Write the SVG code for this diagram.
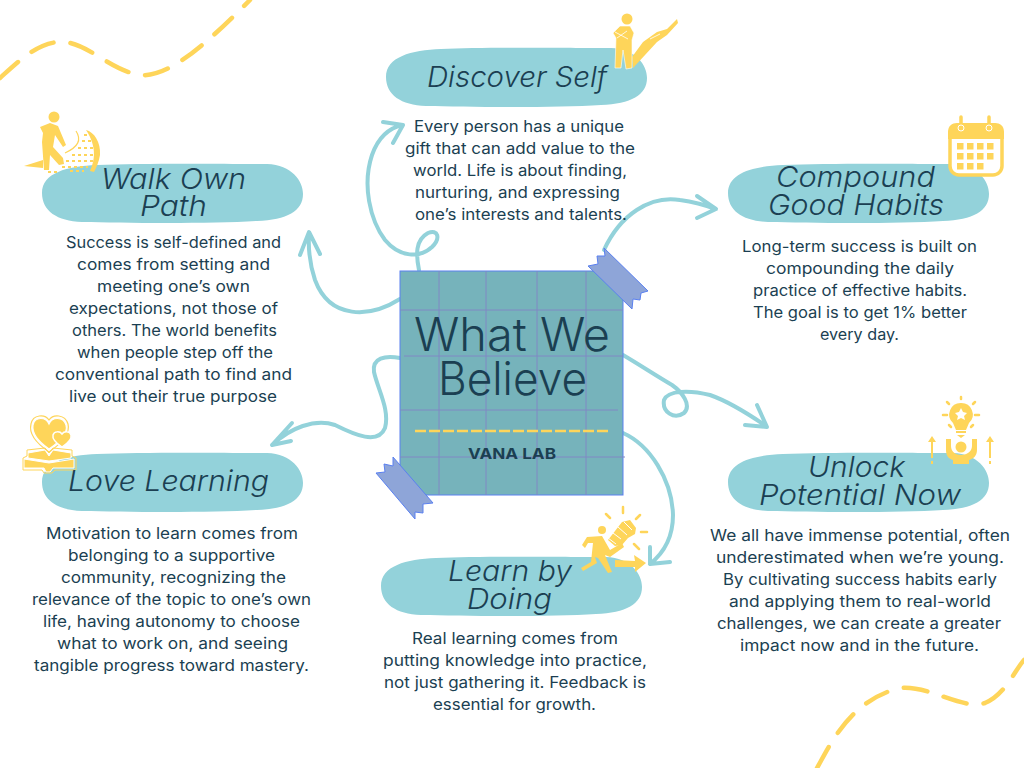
<svg xmlns="http://www.w3.org/2000/svg" width="1024" height="768" viewBox="0 0 1024 768">
<style>
text{font-family:"Inter","Open Sans","Liberation Sans",sans-serif;fill:#1b3f52}
.b{font-size:15.5px;font-weight:400}
.t{font-size:29px;font-style:italic;font-weight:300}
.h{font-size:46px;font-weight:300}
.c{fill:none;stroke:#93d2da;stroke-width:4;stroke-linecap:round;stroke-linejoin:round}
.y{fill:#fed55a}
.d{fill:none;stroke:#fed55a;stroke-width:4.5;stroke-linecap:round;stroke-dasharray:24 17}
.g{stroke:#8088c4;stroke-width:1;fill:none}
.w{fill:none;stroke:#fff}
.tape{fill:#8ea5d8;stroke:#5a80f0;stroke-width:1}
</style>
<defs>
<path id="blob" fill="#93d2da" d="M0,30C0,10 25,3 55,2C100,0 190,1 225,1C250,2 261,18 261,31C261,48 245,57 215,58C170,61 80,60 40,59C15,58 0,48 0,30Z"/>
</defs>
<rect width="1024" height="768" fill="#fff"/>
<g id="decor">
<path class="d" d="M0,78C20,60 40,40 65,42C90,45 110,70 140,75C170,78 210,40 250,0"/>
<path class="d" d="M817,768C830,745 850,700 900,688C930,685 960,710 985,703C1005,695 1015,670 1024,660"/>
</g>
<g id="connectors">
<path class="c" d="M400,299C370,318 330,320 315,280C310,265 308,250 309,233M300,255L309,232L320,254"/>
<path class="c" d="M419,270C416,255 415,240 428,233C438,229 441,238 432,247C420,258 400,258 385,240C370,220 362,185 372,155C378,138 388,128 403,125M383,122L403,125L393,143"/>
<path class="c" d="M604,250C620,215 650,195 680,200C695,202 705,205 715,209M697,196L716,209L697,218"/>
<path class="c" d="M623,355C640,365 655,375 672,385C682,392 692,405 684,413C674,420 662,412 664,400C668,390 690,390 710,395C730,402 750,415 766,426M745,425L767,427L757,405"/>
<path class="c" d="M400,358C385,355 372,358 374,372C378,390 390,410 385,428C378,445 355,435 335,425C315,418 290,428 272,445M292,423L272,445L291,441"/>
<path class="c" d="M623,433C650,445 672,480 673,515C673,535 665,552 650,564M650,547L650,564L670,562"/>
</g>
<g id="center">
<rect x="400" y="271" width="223" height="224" fill="#76b3bb" stroke="#5a80f0" stroke-width="1"/>
<path class="g" d="M439,271V495M486,271V495M537,271V495M586,271V495M400,310H623M404,356H623M400,410H618M400,457H625"/>
<polygon class="tape" points="604,248 648,291 641,293 640,300 633,299 632,309 588,266 598,264 597,256 605,256"/>
<polygon class="tape" points="393,457 433,503 423,504 423,513 415,512 415,519 376,473 385,472 384,464 393,466"/>
<path fill="none" stroke="#fed55a" stroke-width="2.5" stroke-dasharray="11 3" d="M415,431H609"/>
<text class="h" x="414" y="351" textLength="196" lengthAdjust="spacingAndGlyphs">What We</text>
<text class="h" x="438" y="395" textLength="149" lengthAdjust="spacingAndGlyphs">Believe</text>
<text x="468" y="459" font-size="15" font-weight="700" textLength="88" lengthAdjust="spacingAndGlyphs">VANA LAB</text>
</g>
<g id="discover">
<use href="#blob" x="386" y="47"/>
<text class="t" x="427" y="87" textLength="180" lengthAdjust="spacingAndGlyphs">Discover Self</text>
<circle class="y" cx="627" cy="19" r="5.5"/>
<path class="y" d="M632,57L643,42L657,32L667,29L677,19L678,23L667,35L657,42L633,68Z"/>
<path class="y" stroke="#fff" stroke-width="0.6" d="M613,33L620,26H630L634,33L632,40L632,68L626,69L623,50L621,68L615,68L616,38Z"/>
<path class="w" stroke-width="0.8" d="M615,32L628,39M617,38L627,31"/>
<path class="w" stroke-width="0.8" d="M650,39L660,34"/>
<text class="b" x="414" y="132" textLength="210" lengthAdjust="spacingAndGlyphs">Every person has a unique</text>
<text class="b" x="405" y="154" textLength="230" lengthAdjust="spacingAndGlyphs">gift that can add value to the</text>
<text class="b" x="413" y="176" textLength="214" lengthAdjust="spacingAndGlyphs">world. Life is about finding,</text>
<text class="b" x="415" y="198" textLength="205" lengthAdjust="spacingAndGlyphs">nurturing, and expressing</text>
<text class="b" x="415" y="220" textLength="212" lengthAdjust="spacingAndGlyphs">one’s interests and talents.</text>
</g>
<g id="walk">
<use href="#blob" x="42" y="163"/>
<circle class="y" cx="54" cy="117" r="5.5"/>
<path class="y" d="M40,127L50,123L58,126L66,145L63,147L55,135L53,147L63,158L64,164L59,165L50,155L49,170L44,170L42,142L43,133Z"/>
<path class="y" d="M24,166L43,160V168Z"/>
<path class="y" d="M86,130C94,132 101,142 100,155C99,162 96,168 94,172L90,171C94,162 98,148 86,130Z"/>
<path d="M76,131C82,140 78,147 65,153" fill="none" stroke="#fed55a" stroke-width="1.2"/>
<path d="M84,135H89M82,141H93M78,148H94M72,155H94M66,161H93M62,167H88M48,172H60M70,171H84" fill="none" stroke="#fed55a" stroke-width="1.8" stroke-dasharray="3 3"/>
<text class="t" x="101" y="189" textLength="145" lengthAdjust="spacingAndGlyphs">Walk Own</text>
<text class="t" x="140" y="216" textLength="67" lengthAdjust="spacingAndGlyphs">Path</text>
<text class="b" x="66" y="248" textLength="215" lengthAdjust="spacingAndGlyphs">Success is self-defined and</text>
<text class="b" x="77" y="270" textLength="193" lengthAdjust="spacingAndGlyphs">comes from setting and</text>
<text class="b" x="97" y="292" textLength="153" lengthAdjust="spacingAndGlyphs">meeting one’s own</text>
<text class="b" x="69" y="314" textLength="209" lengthAdjust="spacingAndGlyphs">expectations, not those of</text>
<text class="b" x="72" y="336" textLength="205" lengthAdjust="spacingAndGlyphs">others. The world benefits</text>
<text class="b" x="77" y="358" textLength="196" lengthAdjust="spacingAndGlyphs">when people step off the</text>
<text class="b" x="55" y="380" textLength="237" lengthAdjust="spacingAndGlyphs">conventional path to find and</text>
<text class="b" x="69" y="402" textLength="208" lengthAdjust="spacingAndGlyphs">live out their true purpose</text>
</g>
<g id="compound">
<use href="#blob" x="728" y="163"/>
<rect x="950" y="125" width="52" height="50" rx="9" fill="#fff" stroke="#fed55a" stroke-width="3.5"/>
<path class="y" d="M948,139V132C948,126 952,123 957,123H995C1000,123 1004,126 1004,132V139Z"/>
<path d="M961,117V128M989,117V128" stroke="#fed55a" stroke-width="3.5" stroke-linecap="round"/>
<circle cx="961" cy="128" r="3" fill="#fed55a" stroke="#fff"/><circle cx="989" cy="128" r="3" fill="#fed55a" stroke="#fff"/>
<path class="y" d="M957,143h6.5v6.5h-6.5zM967,143h6.5v6.5h-6.5zM977,143h6.5v6.5h-6.5zM987,143h6.5v6.5h-6.5zM957,153h6.5v6.5h-6.5zM967,153h6.5v6.5h-6.5zM977,153h6.5v6.5h-6.5zM987,153h6.5v6.5h-6.5zM957,163h6.5v6.5h-6.5zM967,163h6.5v6.5h-6.5zM977,163h6.5v6.5h-6.5z"/>
<text class="t" x="776" y="187" textLength="159" lengthAdjust="spacingAndGlyphs">Compound</text>
<text class="t" x="768" y="215" textLength="176" lengthAdjust="spacingAndGlyphs">Good Habits</text>
<text class="b" x="742" y="252" textLength="235" lengthAdjust="spacingAndGlyphs">Long-term success is built on</text>
<text class="b" x="766" y="274" textLength="188" lengthAdjust="spacingAndGlyphs">compounding the daily</text>
<text class="b" x="753" y="296" textLength="214" lengthAdjust="spacingAndGlyphs">practice of effective habits.</text>
<text class="b" x="753" y="318" textLength="214" lengthAdjust="spacingAndGlyphs">The goal is to get 1% better</text>
<text class="b" x="820" y="340" textLength="79" lengthAdjust="spacingAndGlyphs">every day.</text>
</g>
<g id="unlock">
<use href="#blob" x="728" y="452"/>
<path class="y" d="M961,403A11.5,11.5 0 0 1 969,423L966,430H956L953,423A11.5,11.5 0 0 1 961,403ZM956,431H966V433H956ZM957,435H965L961,438Z"/>
<polygon fill="#fff" points="961,408 963,412 967,413 964,416 965,420 961,418 957,420 958,416 955,413 959,412"/>
<path d="M961,397V399M947,402L949,404M975,402L973,404M943,415H947M975,415H979M949,425L951,427M973,425L971,427" stroke="#fed55a" stroke-width="2.5" stroke-linecap="round"/>
<circle class="y" cx="961" cy="447" r="5.5"/>
<path class="y" d="M946,439H951V446C951,452 956,455 961,455C966,455 972,452 972,446V439H977V450C977,456 973,459 969,460V464H953V460C949,459 946,456 946,450Z"/>
<path class="y" d="M932,436L936,442H933V458H931V442H928ZM990,436L994,442H991V458H989V442H986ZM931,461h2v3h-2zM989,461h2v3h-2z"/>
<text class="t" x="808" y="477" textLength="97" lengthAdjust="spacingAndGlyphs">Unlock</text>
<text class="t" x="759" y="505" textLength="202" lengthAdjust="spacingAndGlyphs">Potential Now</text>
<text class="b" x="710" y="541" textLength="300" lengthAdjust="spacingAndGlyphs">We all have immense potential, often</text>
<text class="b" x="716" y="563" textLength="288" lengthAdjust="spacingAndGlyphs">underestimated when we’re young.</text>
<text class="b" x="723" y="585" textLength="274" lengthAdjust="spacingAndGlyphs">By cultivating success habits early</text>
<text class="b" x="729" y="607" textLength="262" lengthAdjust="spacingAndGlyphs">and applying them to real-world</text>
<text class="b" x="717" y="629" textLength="284" lengthAdjust="spacingAndGlyphs">challenges, we can create a greater</text>
<text class="b" x="740" y="651" textLength="239" lengthAdjust="spacingAndGlyphs">impact now and in the future.</text>
</g>
<g id="love">
<use href="#blob" x="42" y="452"/>
<path fill="#fed55a" stroke="#fff" stroke-width="1.2" d="M49,449C36,440 32,432 33,425C35,416 46,417 49,424C52,417 63,416 66,425C68,432 62,440 49,449Z"/>
<path fill="none" stroke="#fed55a" stroke-width="1.2" d="M49,452C33,441 29,432 31,424C33,414 45,414 49,420C53,414 65,414 68,424C70,432 65,441 49,452Z"/>
<path fill="#fed55a" stroke="#fff" stroke-width="1.5" d="M62,447C56,443 52,439 53,435C54,431 60,431 62,434C64,431 70,431 71,435C72,439 68,443 62,447Z"/>
<path fill="#fed55a" stroke="#fff" stroke-width="1" d="M28,453L45,450L49,456L53,450L71,453V458L49,461L28,458ZM24,459L49,463L74,459V468H53L50,472H46L44,468H24Z"/>
<path fill="none" stroke="#fed55a" stroke-width="1" d="M27,450L45,448L49,453L53,448L72,450V456L76,458V470H55L52,473H44L42,470H23V458L27,456Z"/>
<text class="t" x="68" y="491" textLength="201" lengthAdjust="spacingAndGlyphs">Love Learning</text>
<text class="b" x="46" y="539" textLength="252" lengthAdjust="spacingAndGlyphs">Motivation to learn comes from</text>
<text class="b" x="68" y="561" textLength="207" lengthAdjust="spacingAndGlyphs">belonging to a supportive</text>
<text class="b" x="61" y="583" textLength="225" lengthAdjust="spacingAndGlyphs">community, recognizing the</text>
<text class="b" x="32" y="605" textLength="279" lengthAdjust="spacingAndGlyphs">relevance of the topic to one’s own</text>
<text class="b" x="43" y="627" textLength="257" lengthAdjust="spacingAndGlyphs">life, having autonomy to choose</text>
<text class="b" x="57" y="649" textLength="231" lengthAdjust="spacingAndGlyphs">what to work on, and seeing</text>
<text class="b" x="34" y="671" textLength="275" lengthAdjust="spacingAndGlyphs">tangible progress toward mastery.</text>
</g>
<g id="learn">
<use href="#blob" x="381" y="556"/>
<circle class="y" cx="602" cy="530" r="4"/>
<path class="y" d="M582,545L587,537L602,536L610,550L622,543L624,547L610,557L605,555L612,572L608,573L598,558L595,557L597,563L583,571L581,568L591,562L593,543L588,543L585,548Z"/>
<path class="y" d="M615,560L635,561L634,555L646,563L635,572V567H615Z"/>
<path class="y" d="M608,540L622,522L630,520L636,528L635,534L628,538L622,545L615,546Z"/>
<path class="w" stroke-width="1" d="M613,533L621,539M618,527L627,535M624,522L632,530M608,538L616,544"/>
<path d="M623,507V513M606,514L610,518M640,515L636,519M641,532H647M634,544L639,549" stroke="#fed55a" stroke-width="2.5" stroke-linecap="round"/>
<text class="t" x="448" y="581" textLength="124" lengthAdjust="spacingAndGlyphs">Learn by</text>
<text class="t" x="467" y="609" textLength="85" lengthAdjust="spacingAndGlyphs">Doing</text>
<text class="b" x="412" y="644" textLength="206" lengthAdjust="spacingAndGlyphs">Real learning comes from</text>
<text class="b" x="383" y="666" textLength="264" lengthAdjust="spacingAndGlyphs">putting knowledge into practice,</text>
<text class="b" x="384" y="688" textLength="262" lengthAdjust="spacingAndGlyphs">not just gathering it. Feedback is</text>
<text class="b" x="433" y="710" textLength="163" lengthAdjust="spacingAndGlyphs">essential for growth.</text>
</g>
</svg>
